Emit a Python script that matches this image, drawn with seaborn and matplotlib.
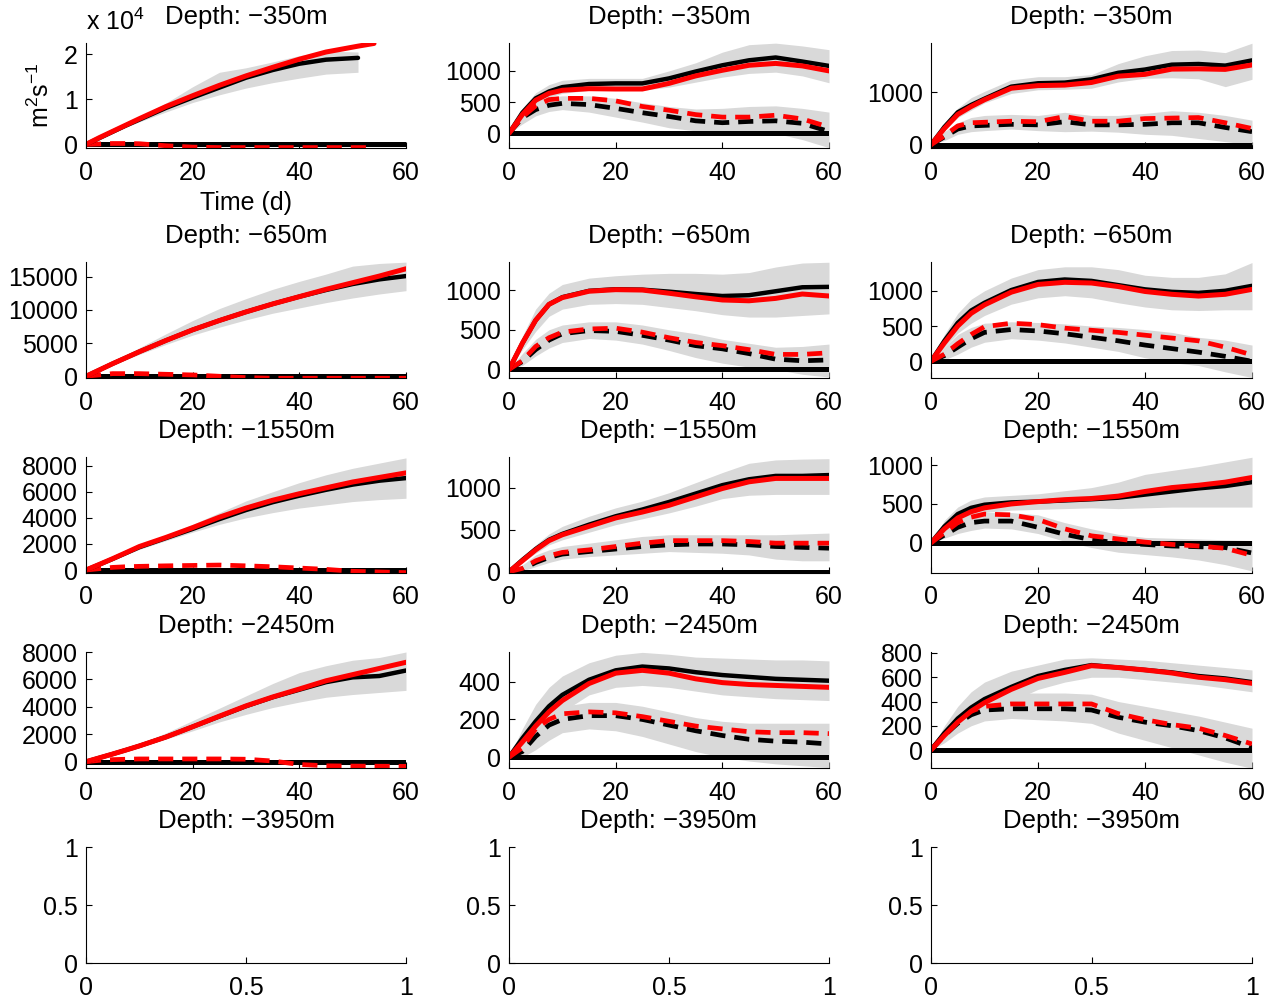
import numpy as np
import matplotlib
matplotlib.use("Agg")
import matplotlib.pyplot as plt
from matplotlib.ticker import FormatStrFormatter
import seaborn as sns

nan = np.nan

# ---------------- data ----------------
T = [0, 2.5, 5, 7.5, 10, 15, 20, 25, 30, 35, 40, 45, 50, 55, 60]
T_top_left = [0, 2.5, 5, 7.5, 10, 15, 20, 25, 30, 35, 40, 45, 51, 54]

depth_titles = ["Depth: \u2212350m", "Depth: \u2212650m", "Depth: \u22121550m",
                "Depth: \u22122450m", "Depth: \u22123950m"]
x_ticks = [0, 20, 40, 60]
empty_ticks = [0, 0.5, 1]

# Depth -350 m, column 1 (values in m^2 s^-1)
d350_c1_black = [0, 1400, 2800, 4200, 5500, 8100, 10400, 12600, 14800, 16500, 17900, 18800, 19200, nan]
d350_c1_red = [0, 1500, 2900, 4300, 5700, 8400, 10800, 13100, 15200, 17100, 18900, 20500, 21800, 22400]
d350_c1_lo = [0, 1200, 2500, 3800, 5000, 7200, 9300, 11000, 12500, 13700, 14700, 15600, 16000, nan]
d350_c1_hi = [0, 1600, 3100, 4600, 6100, 9200, 12800, 16000, 17000, 18300, 19700, 20700, 20500, nan]
d350_c1_dred = [0, 100, 200, 200, 150, -300, -600, -700, -700, -700, -700, -700, -700, -700]

# Depth -350 m, column 2
d350_c2_black = [0, 330, 560, 670, 740, 790, 800, 800, 880, 990, 1090, 1170, 1215, 1150, 1080]
d350_c2_red = [0, 300, 530, 640, 690, 715, 710, 710, 800, 920, 1010, 1090, 1120, 1080, 1000]
d350_c2_lo = [0, 260, 460, 580, 640, 690, 700, 690, 740, 820, 900, 960, 980, 920, 810]
d350_c2_hi = [0, 400, 650, 780, 850, 880, 880, 880, 1000, 1130, 1300, 1420, 1445, 1400, 1340]
d350_c2_dblack = [0, 250, 380, 450, 480, 460, 400, 330, 270, 200, 170, 190, 200, 160, 30]
d350_c2_dred = [0, 260, 440, 540, 560, 560, 520, 430, 370, 300, 260, 260, 290, 230, 100]
d350_c2_dlo = [0, 150, 280, 350, 380, 340, 260, 180, 90, 40, 20, 20, 0, -100, -230]
d350_c2_dhi = [0, 330, 520, 580, 600, 600, 560, 490, 430, 390, 400, 430, 440, 400, 340]

# Depth -350 m, column 3
d350_c3_black = [0, 340, 620, 760, 880, 1110, 1175, 1187, 1250, 1375, 1437, 1530, 1543, 1512, 1612]
d350_c3_red = [0, 310, 580, 730, 860, 1080, 1130, 1140, 1190, 1310, 1345, 1445, 1450, 1440, 1525]
d350_c3_lo = [0, 280, 520, 660, 800, 980, 1050, 1060, 1080, 1200, 1270, 1280, 1260, 1110, 1250]
d350_c3_hi = [0, 400, 700, 900, 1020, 1240, 1300, 1300, 1340, 1550, 1700, 1800, 1810, 1760, 1940]
d350_c3_dblack = [0, 150, 300, 360, 370, 390, 380, 440, 380, 380, 390, 420, 420, 330, 250]
d350_c3_dred = [0, 170, 360, 420, 430, 450, 440, 540, 450, 450, 500, 510, 520, 420, 310]
d350_c3_dlo = [0, 80, 200, 250, 270, 300, 270, 250, 260, 240, 200, 180, 120, 60, 0]
d350_c3_dhi = [0, 250, 420, 520, 560, 580, 560, 620, 560, 560, 600, 650, 620, 560, 470]

# Depth -650 m, column 1
d650_c1_black = [0, 950, 1900, 2800, 3700, 5400, 7000, 8400, 9700, 10900, 12000, 13000, 13900, 14600, 15100]
d650_c1_red = [0, 950, 1900, 2800, 3700, 5400, 7000, 8400, 9700, 10900, 12000, 13100, 14100, 15100, 16200]
d650_c1_lo = [0, 850, 1700, 2500, 3300, 4800, 6200, 7400, 8500, 9500, 10300, 11100, 11800, 12400, 12900]
d650_c1_hi = [0, 1000, 2100, 3200, 4300, 6400, 8400, 10200, 11700, 13100, 14300, 15400, 16600, 17000, 17200]
d650_c1_dred = [0, 200, 400, 400, 400, 300, 200, 0, -200, -300, -300, -300, -300, -300, -300]

# Depth -650 m, column 2
d650_c2_black = [0, 330, 620, 820, 910, 990, 1010, 1005, 980, 950, 925, 935, 985, 1035, 1040]
d650_c2_red = [0, 330, 620, 820, 905, 985, 1005, 1000, 960, 915, 875, 865, 895, 950, 925]
d650_c2_lo = [0, 250, 480, 670, 760, 820, 830, 820, 780, 740, 690, 660, 660, 680, 700]
d650_c2_hi = [0, 420, 760, 960, 1070, 1150, 1180, 1200, 1210, 1210, 1200, 1220, 1290, 1340, 1350]
d650_c2_dblack = [0, 100, 250, 370, 450, 490, 480, 430, 370, 300, 260, 200, 130, 110, 120]
d650_c2_dred = [0, 110, 290, 400, 470, 510, 520, 470, 400, 340, 300, 250, 190, 190, 210]
d650_c2_dlo = [0, 50, 170, 270, 340, 390, 370, 320, 240, 150, 80, 30, 0, -60, -95]
d650_c2_dhi = [0, 200, 380, 500, 560, 600, 600, 560, 500, 450, 380, 330, 280, 290, 320]

# Depth -650 m, column 3
d650_c3_black = [0, 290, 545, 720, 830, 1010, 1125, 1160, 1140, 1080, 1020, 985, 970, 1000, 1070]
d650_c3_red = [0, 260, 500, 680, 800, 980, 1090, 1120, 1110, 1060, 990, 950, 925, 950, 1020]
d650_c3_lo = [0, 200, 400, 540, 650, 810, 900, 930, 900, 830, 770, 730, 720, 730, 730]
d650_c3_hi = [0, 380, 680, 880, 1000, 1180, 1300, 1340, 1340, 1300, 1220, 1190, 1190, 1240, 1400]
d650_c3_dblack = [0, 80, 200, 320, 410, 450, 430, 390, 340, 290, 230, 180, 130, 70, 0]
d650_c3_dred = [0, 100, 250, 380, 490, 540, 520, 470, 440, 410, 370, 330, 290, 200, 90]
d650_c3_dlo = [0, 20, 100, 200, 270, 320, 300, 260, 200, 140, 50, -20, -60, -150, -230]
d650_c3_dhi = [0, 200, 380, 480, 540, 560, 550, 530, 500, 480, 450, 410, 340, 300, 230]

# Depth -1550 m, column 1
d1550_c1_black = [0, 420, 850, 1300, 1750, 2450, 3150, 3900, 4600, 5200, 5700, 6150, 6550, 6850, 7050]
d1550_c1_red = [0, 430, 870, 1330, 1800, 2500, 3250, 4050, 4750, 5350, 5850, 6300, 6750, 7100, 7450]
d1550_c1_lo = [0, 380, 780, 1180, 1580, 2250, 2900, 3500, 4000, 4400, 4750, 5000, 5250, 5400, 5500]
d1550_c1_hi = [0, 470, 950, 1450, 1950, 2700, 3500, 4400, 5300, 6000, 6700, 7300, 7800, 8200, 8600]
d1550_c1_dred = [0, 100, 200, 250, 280, 320, 350, 380, 320, 250, 150, 50, -100, -150, -200]

# Depth -1550 m, column 2
d1550_c2_black = [0, 140, 270, 380, 450, 560, 660, 740, 830, 930, 1030, 1100, 1140, 1140, 1150]
d1550_c2_red = [0, 130, 260, 370, 440, 540, 640, 710, 790, 890, 990, 1070, 1110, 1110, 1110]
d1550_c2_lo = [0, 110, 220, 320, 380, 470, 560, 630, 700, 780, 870, 910, 920, 920, 920]
d1550_c2_hi = [0, 170, 320, 450, 540, 660, 760, 840, 940, 1060, 1180, 1290, 1330, 1340, 1345]
d1550_c2_dblack = [0, 30, 110, 170, 210, 240, 270, 300, 320, 330, 330, 320, 300, 290, 280]
d1550_c2_dred = [0, 40, 130, 190, 230, 260, 300, 340, 370, 370, 370, 360, 340, 340, 340]
d1550_c2_dlo = [0, 10, 60, 110, 150, 180, 200, 220, 240, 230, 220, 200, 150, 130, 130]
d1550_c2_dhi = [0, 80, 200, 260, 300, 340, 380, 420, 440, 440, 440, 440, 440, 450, 460]

# Depth -1550 m, column 3
d1550_c3_black = [0, 210, 370, 450, 490, 520, 530, 545, 560, 580, 620, 660, 700, 730, 780]
d1550_c3_red = [0, 180, 320, 400, 450, 500, 530, 555, 570, 600, 660, 710, 740, 780, 840]
d1550_c3_lo = [0, 130, 260, 340, 390, 420, 430, 440, 450, 440, 450, 460, 460, 460, 460]
d1550_c3_hi = [0, 290, 460, 550, 590, 610, 630, 670, 710, 780, 880, 930, 980, 1040, 1100]
d1550_c3_dblack = [0, 100, 200, 260, 280, 280, 200, 110, 40, 0, -20, -40, -50, -60, -130]
d1550_c3_dred = [0, 130, 260, 330, 370, 360, 300, 180, 90, 50, 10, -20, -40, -70, -160]
d1550_c3_dlo = [0, 60, 120, 160, 190, 180, 120, 20, -60, -120, -150, -180, -220, -280, -360]
d1550_c3_dhi = [0, 180, 310, 370, 390, 390, 360, 260, 180, 110, 70, 60, 50, 40, 30]

# Depth -2450 m, column 1
d2450_c1_black = [0, 280, 560, 850, 1150, 1800, 2550, 3300, 4050, 4700, 5250, 5800, 6150, 6250, 6650]
d2450_c1_red = [0, 280, 560, 850, 1150, 1800, 2550, 3320, 4070, 4720, 5300, 5900, 6350, 6800, 7250]
d2450_c1_lo = [0, 260, 520, 780, 1050, 1650, 2250, 2900, 3450, 3950, 4350, 4700, 4900, 5050, 5200]
d2450_c1_hi = [0, 300, 620, 950, 1300, 2100, 3000, 3900, 4800, 5700, 6500, 7000, 7400, 7600, 8000]
d2450_c1_dred = [0, 100, 150, 180, 200, 200, 200, 200, 180, 50, -200, -300, -320, -330, -340]

# Depth -2450 m, column 2
d2450_c2_black = [0, 100, 190, 270, 330, 410, 460, 480, 470, 450, 435, 425, 415, 410, 405]
d2450_c2_red = [0, 80, 165, 240, 300, 390, 445, 460, 445, 415, 395, 385, 380, 375, 370]
d2450_c2_lo = [0, 60, 130, 190, 240, 330, 370, 380, 370, 350, 330, 320, 310, 305, 300]
d2450_c2_hi = [0, 150, 280, 370, 430, 500, 540, 555, 545, 530, 525, 520, 515, 515, 510]
d2450_c2_dblack = [0, 30, 110, 170, 200, 220, 220, 200, 170, 140, 115, 95, 85, 80, 70]
d2450_c2_dred = [0, 50, 150, 200, 230, 240, 235, 215, 190, 165, 150, 135, 130, 130, 125]
d2450_c2_dlo = [0, 0, 40, 90, 130, 150, 140, 110, 70, 30, 0, -20, -35, -45, -55]
d2450_c2_dhi = [0, 110, 200, 250, 270, 290, 290, 270, 240, 210, 190, 180, 180, 180, 180]

# Depth -2450 m, column 3
d2450_c3_black = [0, 140, 260, 350, 420, 520, 610, 660, 700, 680, 660, 640, 610, 590, 560]
d2450_c3_red = [0, 120, 230, 320, 390, 500, 590, 640, 695, 680, 660, 635, 600, 580, 550]
d2450_c3_lo = [0, 90, 170, 240, 300, 400, 500, 560, 600, 600, 580, 560, 540, 510, 480]
d2450_c3_hi = [0, 200, 360, 480, 560, 650, 700, 750, 760, 750, 740, 720, 700, 680, 660]
d2450_c3_dblack = [0, 120, 220, 290, 330, 340, 340, 340, 330, 270, 230, 200, 160, 100, 20]
d2450_c3_dred = [0, 130, 250, 320, 360, 380, 380, 380, 380, 300, 250, 210, 180, 120, 50]
d2450_c3_dlo = [0, 60, 140, 200, 240, 260, 250, 240, 220, 140, 80, 20, -40, -100, -150]
d2450_c3_dhi = [0, 180, 320, 400, 450, 470, 470, 470, 460, 400, 360, 320, 280, 230, 180]

# ---------------- style ----------------
sns.set_theme(style="ticks")
plt.rcParams["font.family"] = ["Liberation Sans", "DejaVu Sans"]
plt.rcParams["mathtext.fontset"] = "custom"
plt.rcParams["mathtext.rm"] = "Liberation Sans"
plt.rcParams["mathtext.it"] = "Liberation Sans:italic"
plt.rcParams["mathtext.default"] = "regular"
plt.rcParams["axes.unicode_minus"] = True

GRAY = "#d9d9d9"
RED = "#ff0000"
DASH = (0, (3.2, 1.9))
FS = 18

W, H = 1285, 1005
col_left = [86, 509, 931]
col_width = [320, 320, 321]
row_top = [43, 262, 457, 652, 847]
row_bottom = [148, 378, 573, 768, 963]

panels = [
    dict(r=0, c=0, t=T_top_left, black=d350_c1_black, red=d350_c1_red, lo=d350_c1_lo, hi=d350_c1_hi,
         dred=d350_c1_dred, ylim=(-0.08, 2.25), yticks=[0, 1, 2], scale=1e4),
    dict(r=0, c=1, t=T, black=d350_c2_black, red=d350_c2_red, lo=d350_c2_lo, hi=d350_c2_hi,
         dblack=d350_c2_dblack, dred=d350_c2_dred, dlo=d350_c2_dlo, dhi=d350_c2_dhi,
         ylim=(-235, 1447), yticks=[0, 500, 1000]),
    dict(r=0, c=2, t=T, black=d350_c3_black, red=d350_c3_red, lo=d350_c3_lo, hi=d350_c3_hi,
         dblack=d350_c3_dblack, dred=d350_c3_dred, dlo=d350_c3_dlo, dhi=d350_c3_dhi,
         ylim=(-62, 1944), yticks=[0, 1000]),
    dict(r=1, c=0, t=T, black=d650_c1_black, red=d650_c1_red, lo=d650_c1_lo, hi=d650_c1_hi,
         dred=d650_c1_dred, ylim=(-260, 17220), yticks=[0, 5000, 10000, 15000]),
    dict(r=1, c=1, t=T, black=d650_c2_black, red=d650_c2_red, lo=d650_c2_lo, hi=d650_c2_hi,
         dblack=d650_c2_dblack, dred=d650_c2_dred, dlo=d650_c2_dlo, dhi=d650_c2_dhi,
         ylim=(-107, 1353), yticks=[0, 500, 1000]),
    dict(r=1, c=2, t=T, black=d650_c3_black, red=d650_c3_red, lo=d650_c3_lo, hi=d650_c3_hi,
         dblack=d650_c3_dblack, dred=d650_c3_dred, dlo=d650_c3_dlo, dhi=d650_c3_dhi,
         ylim=(-237, 1408), yticks=[0, 500, 1000]),
    dict(r=2, c=0, t=T, black=d1550_c1_black, red=d1550_c1_red, lo=d1550_c1_lo, hi=d1550_c1_hi,
         dred=d1550_c1_dred, ylim=(-230, 8667), yticks=[0, 2000, 4000, 6000, 8000]),
    dict(r=2, c=1, t=T, black=d1550_c2_black, red=d1550_c2_red, lo=d1550_c2_lo, hi=d1550_c2_hi,
         dblack=d1550_c2_dblack, dred=d1550_c2_dred, dlo=d1550_c2_dlo, dhi=d1550_c2_dhi,
         ylim=(-15, 1365), yticks=[0, 500, 1000]),
    dict(r=2, c=2, t=T, black=d1550_c3_black, red=d1550_c3_red, lo=d1550_c3_lo, hi=d1550_c3_hi,
         dblack=d1550_c3_dblack, dred=d1550_c3_dred, dlo=d1550_c3_dlo, dhi=d1550_c3_dhi,
         ylim=(-387, 1103), yticks=[0, 500, 1000]),
    dict(r=3, c=0, t=T, black=d2450_c1_black, red=d2450_c1_red, lo=d2450_c1_lo, hi=d2450_c1_hi,
         dred=d2450_c1_dred, ylim=(-460, 8000), yticks=[0, 2000, 4000, 6000, 8000]),
    dict(r=3, c=1, t=T, black=d2450_c2_black, red=d2450_c2_red, lo=d2450_c2_lo, hi=d2450_c2_hi,
         dblack=d2450_c2_dblack, dred=d2450_c2_dred, dlo=d2450_c2_dlo, dhi=d2450_c2_dhi,
         ylim=(-57, 557), yticks=[0, 200, 400]),
    dict(r=3, c=2, t=T, black=d2450_c3_black, red=d2450_c3_red, lo=d2450_c3_lo, hi=d2450_c3_hi,
         dblack=d2450_c3_dblack, dred=d2450_c3_dred, dlo=d2450_c3_dlo, dhi=d2450_c3_dhi,
         ylim=(-148, 808), yticks=[0, 200, 400, 600, 800]),
]

fig = plt.figure(figsize=(W / 100, H / 100), dpi=100)


def make_axes(r, c):
    left = col_left[c] / W
    bottom = 1 - row_bottom[r] / H
    ax = fig.add_axes([left, bottom, col_width[c] / W, (row_bottom[r] - row_top[r]) / H])
    ax.set_facecolor("white")
    for s in ["top", "right"]:
        ax.spines[s].set_visible(False)
    for s in ["left", "bottom"]:
        ax.spines[s].set_linewidth(0.8)
        ax.spines[s].set_color("black")
    ax.tick_params(direction="in", length=4, width=0.8, labelsize=FS, colors="black")
    ax.tick_params(axis="x", pad=9)
    ax.tick_params(axis="y", pad=6)
    ax.set_title(depth_titles[r], fontsize=FS + 0.5, pad=13.5, color="black")
    return ax


def line(ax, t, y, scale, color, lw, ls="-"):
    y = np.asarray(y, dtype=float) / scale
    sns.lineplot(x=np.asarray(t, dtype=float), y=y, ax=ax, color=color, lw=lw,
                 linestyle=ls, estimator=None, sort=False, legend=False)


for p in panels:
    ax = make_axes(p["r"], p["c"])
    s = p.get("scale", 1.0)
    t = np.asarray(p["t"], dtype=float)
    if "dlo" in p:
        ax.fill_between(t, np.asarray(p["dlo"], float) / s, np.asarray(p["dhi"], float) / s,
                        color=GRAY, lw=0)
    ax.fill_between(t, np.asarray(p["lo"], float) / s, np.asarray(p["hi"], float) / s,
                    color=GRAY, lw=0)
    ax.axhline(0, color="black", lw=3.6, zorder=2)
    if "dblack" in p:
        line(ax, t, p["dblack"], s, "black", 3.4, DASH)
    line(ax, t, p["dred"], s, RED, 3.4, DASH)
    line(ax, t, p["black"], s, "black", 3.2)
    line(ax, t, p["red"], s, RED, 3.6)
    ax.set_xlim(0, 60)
    ax.set_ylim(*p["ylim"])
    ax.set_xticks(x_ticks)
    ax.set_yticks(p["yticks"])
    ax.xaxis.set_major_formatter(FormatStrFormatter("%g"))
    ax.yaxis.set_major_formatter(FormatStrFormatter("%g"))
    ax.set_xlabel("")
    ax.set_ylabel("")
    if p["r"] == 0 and p["c"] == 0:
        ax.set_xlabel("Time (d)", fontsize=FS, labelpad=5, color="black")
        ax.set_ylabel("m$^2$s$^{-1}$", fontsize=FS, labelpad=7, color="black")
        ax.annotate("x 10$^4$", xy=(0.0, 1.0), xycoords="axes fraction",
                    xytext=(0, 6), textcoords="offset points", fontsize=FS,
                    ha="left", va="bottom", color="black")

for c in range(3):
    ax = make_axes(4, c)
    ax.set_xlim(0, 1)
    ax.set_ylim(0, 1)
    ax.set_xticks(empty_ticks)
    ax.set_yticks(empty_ticks)
    ax.xaxis.set_major_formatter(FormatStrFormatter("%g"))
    ax.yaxis.set_major_formatter(FormatStrFormatter("%g"))

fig.savefig("out.png", dpi=100)
